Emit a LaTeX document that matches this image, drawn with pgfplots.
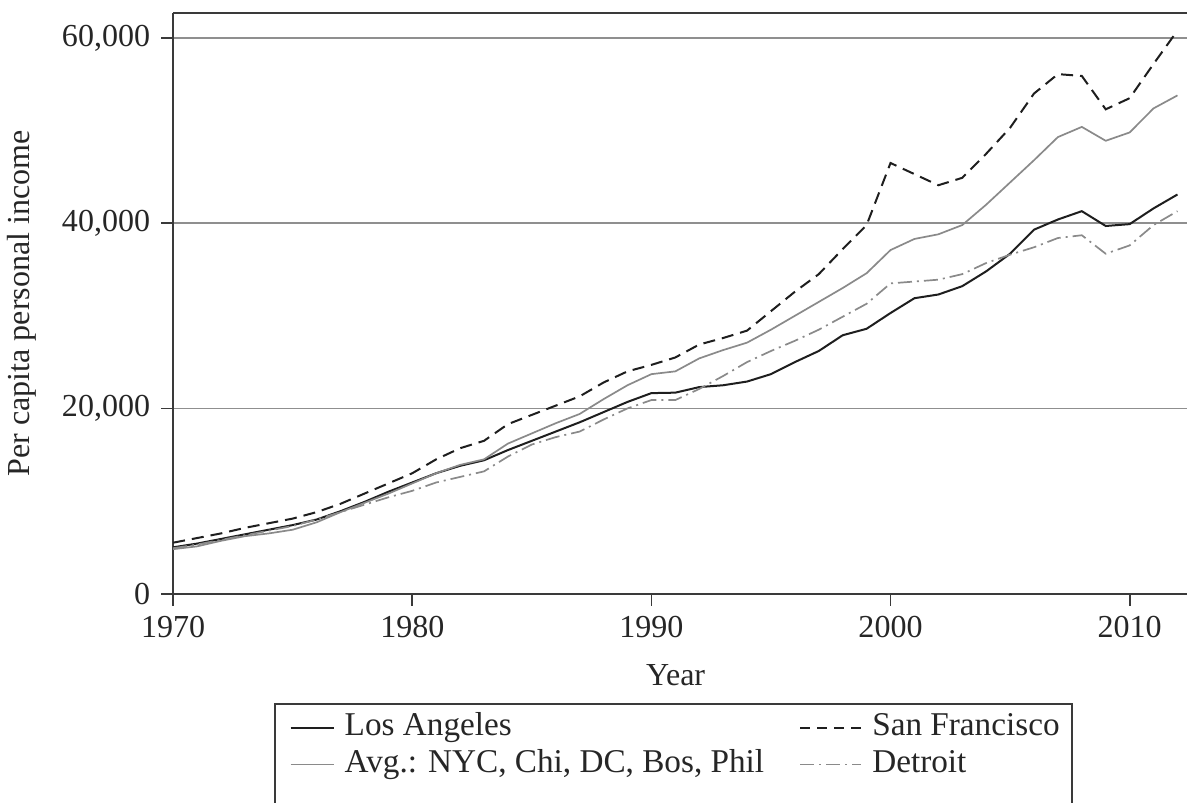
\documentclass[border=0pt]{standalone}
\usepackage{fontspec}
\setmainfont{Liberation Serif}
\usepackage{pgfplots}
\usepackage{pgfplotstable}
\pgfplotsset{compat=1.18}
\definecolor{lineblack}{HTML}{1E1E1E}
\definecolor{linegray}{HTML}{8A8A8A}
\definecolor{axisgray}{HTML}{3A3A3A}
\definecolor{gridgray}{HTML}{8F8F8F}

\pgfplotstableread{
year LA SF AVG DET
1970 5000 5500 4800 4900
1971 5400 6000 5100 5300
1972 5900 6500 5700 5800
1973 6400 7100 6200 6300
1974 6900 7600 6500 6800
1975 7400 8100 6900 7300
1976 8000 8800 7700 8000
1977 8900 9700 8800 8800
1978 9900 10800 9800 9600
1979 11000 11900 10800 10400
1980 12000 13000 11900 11100
1981 13000 14500 13000 12000
1982 13800 15700 13900 12600
1983 14400 16500 14500 13200
1984 15500 18300 16200 14800
1985 16500 19300 17300 16100
1986 17500 20300 18400 16900
1987 18500 21300 19400 17500
1988 19600 22800 21000 18800
1989 20700 24000 22500 20000
1990 21650 24700 23700 20900
1991 21700 25500 24000 20900
1992 22300 26900 25400 22100
1993 22500 27600 26300 23500
1994 22900 28400 27100 25000
1995 23700 30500 28500 26200
1996 25000 32600 30000 27300
1997 26200 34500 31500 28500
1998 27900 37200 33000 29900
1999 28600 39800 34600 31300
2000 30300 46500 37100 33500
2001 31900 45300 38300 33700
2002 32300 44100 38800 33900
2003 33200 44900 39800 34500
2004 34800 47500 42000 35700
2005 36700 50300 44400 36600
2006 39300 54000 46800 37400
2007 40400 56100 49300 38400
2008 41300 55900 50400 38700
2009 39700 52300 48900 36700
2010 39900 53500 49800 37600
2011 41600 57200 52400 39800
2012 43100 60800 53800 41300
}\datatable

\begin{document}
\fontsize{16}{19}\selectfont
\begin{tikzpicture}
\useasboundingbox (-86.5pt,-104.5pt) rectangle (506.4pt,296.5pt);
\begin{axis}[
  at={(0,0)}, anchor=south west,
  scale only axis, width=507pt, height=290pt,
  xmin=1970, xmax=2012.45, ymin=0, ymax=62700,
  axis x line*=box, axis y line*=left,
  axis line style={-, axisgray, line width=1pt},
  xtick={1970,1980,1990,2000,2010},
  ytick={0,20000,40000,60000},
  tick pos=left, tick align=outside,
  major tick length=6pt,
  tick style={axisgray, line width=0.9pt},
  ymajorgrids, grid style={gridgray, line width=0.8pt},
  scaled y ticks=false,
  /pgf/number format/assume math mode=true,
  ticklabel style={font=\fontsize{16}{19}\selectfont, text=black!85},
  yticklabel style={/pgf/number format/1000 sep={,}},
  xticklabel style={/pgf/number format/1000 sep={}},
  xlabel={Year},
  ylabel={Per capita personal income},
  label style={font=\fontsize{16}{19}\selectfont, text=black!85},
  xlabel style={at={(axis description cs:0.495,-0.141)}, anchor=center},
  ylabel style={at={(axis description cs:-0.149,0.5)}, anchor=center},
  legend columns=2,
  legend cell align=left,
  legend style={draw=none, fill=none, inner sep=0pt,
    at={(axis description cs:0.1144,-0.203)}, anchor=north west,
    font=\fontsize{16.6}{19}\selectfont, text=black!85,
    row sep=2.3pt,
    nodes={inner sep=0pt, text height=12pt, text depth=4pt},
    /tikz/every odd column/.append style={column sep=5pt}},
]
\addplot[lineblack, line width=1pt,
  legend image code/.code={\draw[lineblack, line width=1pt] (0pt,0pt) -- (21.5pt,0pt);}]
  table[x=year, y=LA] {\datatable};
\addlegendentry{\makebox[227pt][l]{Los Angeles}}
\addplot[lineblack, line width=1pt, dash pattern=on 6pt off 3.5pt,
  legend image code/.code={\draw[lineblack, line width=1pt, dash pattern=on 5pt off 3.5pt] (0pt,0pt) -- (30.5pt,0pt);}]
  table[x=year, y=SF] {\datatable};
\addlegendentry{San Francisco}
\addplot[linegray, line width=0.85pt,
  legend image code/.code={\draw[linegray, line width=0.85pt] (0pt,0pt) -- (21.5pt,0pt);}]
  table[x=year, y=AVG] {\datatable};
\addlegendentry{\makebox[227pt][l]{Avg.: NYC, Chi, DC, Bos, Phil}}
\addplot[linegray, line width=0.85pt, dash pattern=on 7pt off 2.5pt on 1pt off 2.5pt,
  legend image code/.code={\draw[linegray, line width=0.85pt, dash pattern=on 7pt off 2.5pt on 1pt off 2.5pt] (0pt,0pt) -- (30.5pt,0pt);}]
  table[x=year, y=DET] {\datatable};
\addlegendentry{Detroit}
\end{axis}
\draw[axisgray, line width=1pt] (51pt,-125pt) -- (51pt,-55.3pt) -- (449pt,-55.3pt) -- (449pt,-125pt);
\end{tikzpicture}
\end{document}
